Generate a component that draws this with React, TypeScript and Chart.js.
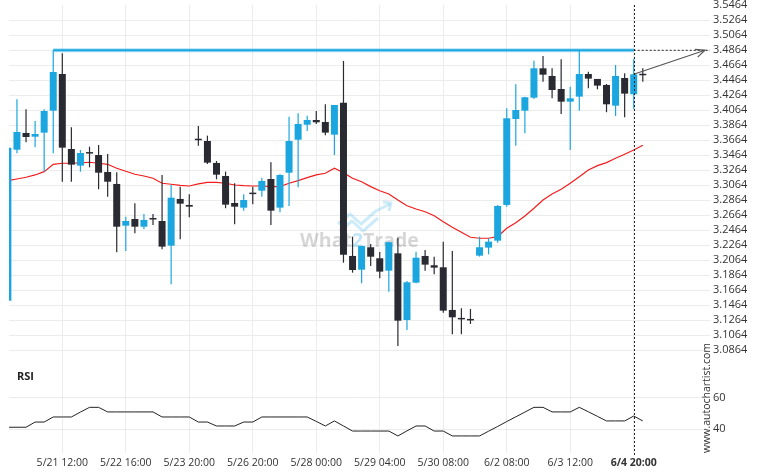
import React, { useEffect, useRef } from 'react';
import { Chart, registerables } from 'chart.js';

Chart.register(...registerables);

// ---- data (4h candles, index 0..70) ----
const OPEN = [
  3.1525, 3.3539, 3.3762, 3.3712, 3.3766, 3.4059, 3.4548, 3.3548, 3.3326, 3.3495,
  3.3468, 3.3242, 3.3082, 3.2526, 3.2615, 3.2512, 3.2615, 3.2588, 3.2259, 3.2882,
  3.2802, 3.3670, 3.3655, 3.3362, 3.3188, 3.2828, 3.2766, 3.2951, 3.2992, 3.3148,
  3.2766, 3.3232, 3.3672, 3.3872, 3.3935, 3.3908, 3.3739, 3.4166, 3.2122, 3.1939,
  3.2238, 3.2091, 3.1926, 3.2157, 3.1268, 3.1766, 3.2122, 3.1998, 3.1971, 3.1402,
  3.1280, 3.1266, 3.2126, 3.2233, 3.2326, 3.2802, 3.3948, 3.4059, 3.4232, 3.4624,
  3.4522, 3.4348, 3.4179, 3.4246, 3.4548, 3.4482, 3.4402, 3.4126, 3.4495, 3.4278,
  3.4548,
];
const HIGH = [
  3.3570, 3.4211, 3.4078, 3.3922, 3.4078, 3.4864, 3.4824, 3.3838, 3.3535, 3.3579,
  3.3602, 3.3482, 3.3238, 3.2646, 3.2824, 3.2682, 3.2682, 3.3202, 3.3068, 3.3046,
  3.2944, 3.3855, 3.3726, 3.3388, 3.3246, 3.3091, 3.2944, 3.3046, 3.3166, 3.3371,
  3.3211, 3.3979, 3.4024, 3.3992, 3.4055, 3.4144, 3.4135, 3.4722, 3.2379, 3.2255,
  3.2282, 3.2175, 3.2313, 3.2366, 3.1788, 3.2179, 3.2202, 3.2113, 3.2313, 3.2188,
  3.1424, 3.1415, 3.2379, 3.2358, 3.2802, 3.4091, 3.4411, 3.4246, 3.4726, 3.4788,
  3.4624, 3.4744, 3.4379, 3.4855, 3.4579, 3.4482, 3.4415, 3.4668, 3.4558, 3.4748,
  3.4624,
];
const LOW = [
  3.1520, 3.3491, 3.3638, 3.3571, 3.3246, 3.3491, 3.3112, 3.3112, 3.3246, 3.3304,
  3.3011, 3.2912, 3.2171, 3.2188, 3.2425, 3.2478, 3.2535, 3.2211, 3.1744, 3.2344,
  3.2638, 3.3592, 3.3348, 3.3144, 3.2758, 3.2544, 3.2726, 3.2811, 3.2912, 3.2535,
  3.2704, 3.2788, 3.3038, 3.3788, 3.3882, 3.3731, 3.3468, 3.2032, 3.1899, 3.1758,
  3.1988, 3.1824, 3.1646, 3.0922, 3.1135, 3.1758, 3.1926, 3.1878, 3.1366, 3.1078,
  3.1078, 3.1215, 3.2113, 3.2144, 3.2299, 3.2779, 3.3593, 3.3758, 3.4215, 3.4446,
  3.4224, 3.4015, 3.3535, 3.4059, 3.4358, 3.4344, 3.4038, 3.3988, 3.3971, 3.4082,
  3.4446,
];
const CLOSE = [
  3.3565, 3.3775, 3.3708, 3.3748, 3.4055, 3.4575, 3.3566, 3.3339, 3.3495, 3.3487,
  3.3232, 3.3112, 3.2512, 3.2588, 3.2512, 3.2602, 3.2608, 3.2246, 3.2899, 3.2819,
  3.2779, 3.3665, 3.3366, 3.3206, 3.2806, 3.2779, 3.2868, 3.2946, 3.3122, 3.2726,
  3.3202, 3.3655, 3.3882, 3.3935, 3.3904, 3.3766, 3.4135, 3.2139, 3.1935, 3.2255,
  3.2112, 3.1913, 3.2305, 3.1259, 3.1771, 3.2099, 3.2006, 3.1966, 3.1393, 3.1304,
  3.1276, 3.1262, 3.2238, 3.2313, 3.2788, 3.3958, 3.4068, 3.4238, 3.4624, 3.4539,
  3.4335, 3.4179, 3.4224, 3.4548, 3.4486, 3.4393, 3.4144, 3.4522, 3.4286, 3.4544,
  3.4531,
];
const MA = [
  3.3126, 3.3148, 3.3171, 3.3202, 3.3246, 3.3344, 3.3358, 3.3358, 3.3362, 3.3371,
  3.3358, 3.3344, 3.3291, 3.3252, 3.3211, 3.3188, 3.3158, 3.3091, 3.3078, 3.3064,
  3.3055, 3.3082, 3.3104, 3.3104, 3.3091, 3.3068, 3.3059, 3.3055, 3.3055, 3.3046,
  3.3046, 3.3091, 3.3126, 3.3166, 3.3202, 3.3224, 3.3291, 3.3232, 3.3158, 3.3112,
  3.3046, 3.2991, 3.2948, 3.2868, 3.2792, 3.2748, 3.2712, 3.2659, 3.2579, 3.2504,
  3.2438, 3.2371, 3.2358, 3.2358, 3.2379, 3.2491, 3.2566, 3.2655, 3.2758, 3.2868,
  3.2948, 3.3011, 3.3091, 3.3179, 3.3268, 3.3326, 3.3366, 3.3424, 3.3478, 3.3535,
  3.3598,
];
const RSI = [
  41.3, 41.3, 41.3, 44.6, 44.6, 47.8, 47.8, 47.8, 50.9, 53.9,
  53.9, 51.0, 51.0, 51.0, 51.0, 51.0, 51.0, 47.8, 47.8, 47.8,
  47.8, 44.6, 44.6, 42.1, 42.1, 42.1, 44.6, 44.6, 47.8, 47.8,
  47.8, 47.8, 47.8, 47.8, 45.0, 42.1, 45.3, 42.1, 38.9, 38.9,
  38.9, 38.9, 38.9, 35.8, 39.0, 42.1, 42.1, 38.9, 38.9, 35.8,
  35.8, 35.8, 35.8, 38.8, 41.8, 44.9, 47.9, 50.9, 53.9, 53.9,
  51.0, 51.0, 51.0, 53.9, 51.1, 48.2, 45.3, 45.3, 45.3, 48.4,
  45.3,
];

const X_TICK_INDEX = [6, 13, 20, 27, 34, 41, 48, 55, 62, 69];
const X_TICK_LABELS = [
  '5/21 12:00', '5/22 16:00', '5/23 20:00', '5/26 20:00', '5/28 00:00',
  '5/29 04:00', '5/30 08:00', '6/2 08:00', '6/3 12:00', '6/4 20:00',
];
const PRICE_TICKS = [
  3.0864, 3.1064, 3.1264, 3.1464, 3.1664, 3.1864, 3.2064, 3.2264, 3.2464, 3.2664,
  3.2864, 3.3064, 3.3264, 3.3464, 3.3664, 3.3864, 3.4064, 3.4264, 3.4464, 3.4664,
  3.4864, 3.5064, 3.5264, 3.5464,
];
const RSI_TICKS = [40, 60];

const RESISTANCE = 3.4864;
const RESISTANCE_START = 5;
const SIGNAL_INDEX = 69;
const FORECAST_END = 76.86;

const X_MIN = 0.123;
const X_MAX = 77.41;
const PRICE_MIN = 3.0708;
const PRICE_MAX = 3.5468;
const RSI_MIN = 25.0;
const RSI_MAX = 82.6;
const PRICE_PANE_WEIGHT = 357;
const RSI_PANE_WEIGHT = 91;

const BLUE = '#1ba6df';
const DARK = '#2a2a32';
const FONT = "'Open Sans', 'Noto Sans', sans-serif";

const overlayPlugin = {
  id: 'overlay',
  beforeDatasetsDraw(chart: any) {
    const { ctx } = chart;
    ctx.save();
    // watermark logo
    ctx.strokeStyle = 'rgba(27,166,223,0.22)';
    ctx.lineWidth = 3;
    ctx.lineJoin = 'round';
    ctx.beginPath();
    ctx.moveTo(338, 224); ctx.lineTo(350, 214); ctx.lineTo(361, 224); ctx.lineTo(376, 211); ctx.lineTo(390, 204);
    ctx.stroke();
    ctx.beginPath();
    ctx.moveTo(340, 231); ctx.lineTo(352, 221); ctx.lineTo(363, 231); ctx.lineTo(378, 218);
    ctx.stroke();
    ctx.beginPath();
    ctx.moveTo(383, 202); ctx.lineTo(391, 203); ctx.lineTo(389, 211);
    ctx.stroke();
    // watermark text
    ctx.font = `bold 19.5px ${FONT}`;
    ctx.textBaseline = 'alphabetic';
    ctx.textAlign = 'left';
    let x = 300;
    const parts: [string, string][] = [['What', 'rgba(0,0,0,0.16)'], ['2', 'rgba(27,166,223,0.28)'], ['Trade', 'rgba(0,0,0,0.16)']];
    for (const [t, c] of parts) {
      ctx.fillStyle = c;
      ctx.fillText(t, x, 247);
      x += ctx.measureText(t).width;
    }
    ctx.restore();
  },
  afterDatasetsDraw(chart: any) {
    const { ctx, chartArea } = chart;
    const xs = chart.scales.x;
    ctx.save();
    // vertical dashed signal line
    const px = Math.round(xs.getPixelForValue(SIGNAL_INDEX)) + 0.5;
    ctx.strokeStyle = '#222';
    ctx.lineWidth = 1;
    ctx.setLineDash([2, 2]);
    ctx.beginPath();
    ctx.moveTo(px, chartArea.top);
    ctx.lineTo(px, chartArea.bottom + 2);
    ctx.stroke();
    ctx.setLineDash([]);
    // arrow head on forecast line
    const meta = chart.getDatasetMeta(chart.data.datasets.findIndex((d: any) => d.label === 'forecast'));
    if (meta && meta.data.length === 2) {
      const p0 = meta.data[0], p1 = meta.data[1];
      const ang = Math.atan2(p1.y - p0.y, p1.x - p0.x);
      const len = 10, spread = 0.42;
      ctx.strokeStyle = '#555';
      ctx.lineWidth = 1.2;
      ctx.beginPath();
      ctx.moveTo(p1.x - len * Math.cos(ang - spread), p1.y - len * Math.sin(ang - spread));
      ctx.lineTo(p1.x, p1.y);
      ctx.lineTo(p1.x - len * Math.cos(ang + spread), p1.y - len * Math.sin(ang + spread));
      ctx.stroke();
    }
    ctx.restore();
  },
  afterDraw(chart: any) {
    const { ctx } = chart;
    ctx.save();
    ctx.fillStyle = '#222';
    ctx.font = `bold 11px ${FONT}`;
    ctx.textAlign = 'left';
    ctx.textBaseline = 'middle';
    ctx.fillText('RSI', 17, 377);
    ctx.translate(707.5, 453);
    ctx.rotate(-Math.PI / 2);
    ctx.fillStyle = '#333';
    ctx.font = `10.5px ${FONT}`;
    ctx.textAlign = 'left';
    ctx.textBaseline = 'middle';
    ctx.fillText('www.autochartist.com', 0, 0);
    ctx.restore();
  },
};

export default function App() {
  const canvasRef = useRef<HTMLCanvasElement | null>(null);

  useEffect(() => {
    const canvas = canvasRef.current;
    if (!canvas) return;
    const idx = OPEN.map((_, i) => i);
    const colors = idx.map((i) => (CLOSE[i] >= OPEN[i] ? BLUE : DARK));

    const chart = new Chart(canvas, {
      type: 'bar',
      data: {
        datasets: [
          {
            type: 'line',
            label: 'forecast',
            data: [
              { x: SIGNAL_INDEX, y: CLOSE[SIGNAL_INDEX] },
              { x: FORECAST_END, y: RESISTANCE },
            ],
            borderColor: '#555',
            borderWidth: 1.2,
            pointRadius: 0,
            yAxisID: 'y',
            clip: 0,
            order: 1,
          } as any,
          {
            type: 'line',
            label: 'resistance-ext',
            data: [
              { x: SIGNAL_INDEX, y: RESISTANCE },
              { x: X_MAX, y: RESISTANCE },
            ],
            borderColor: '#222',
            borderWidth: 1,
            borderDash: [2, 2],
            pointRadius: 0,
            yAxisID: 'y',
            clip: 0,
            order: 2,
          } as any,
          {
            type: 'line',
            label: 'resistance',
            data: [
              { x: RESISTANCE_START, y: RESISTANCE },
              { x: SIGNAL_INDEX, y: RESISTANCE },
            ],
            borderColor: BLUE,
            borderWidth: 2,
            pointRadius: 0,
            yAxisID: 'y',
            clip: 0,
            order: 2,
          } as any,
          {
            type: 'line',
            label: 'resistance-halo',
            data: [
              { x: RESISTANCE_START, y: RESISTANCE },
              { x: SIGNAL_INDEX, y: RESISTANCE },
            ],
            borderColor: 'rgba(27,166,223,0.35)',
            borderWidth: 4,
            pointRadius: 0,
            yAxisID: 'y',
            clip: 0,
            order: 3,
          } as any,
          {
            type: 'bar',
            label: 'body',
            data: idx.map((i) => ({ x: i, y: [OPEN[i], CLOSE[i]] })),
            backgroundColor: colors,
            barThickness: 7,
            minBarLength: 1.5,
            grouped: false,
            inflateAmount: 0,
            borderWidth: 0,
            yAxisID: 'y',
            clip: 0,
            order: 4,
          } as any,
          {
            type: 'bar',
            label: 'wick',
            data: idx.map((i) => ({ x: i, y: [LOW[i], HIGH[i]] })),
            backgroundColor: colors,
            barThickness: 1.2,
            grouped: false,
            inflateAmount: 0,
            borderWidth: 0,
            yAxisID: 'y',
            clip: 0,
            order: 5,
          } as any,
          {
            type: 'line',
            label: 'ma',
            data: idx.map((i) => ({ x: i, y: MA[i] })),
            borderColor: '#f21c1c',
            borderWidth: 1.2,
            pointRadius: 0,
            tension: 0,
            yAxisID: 'y',
            clip: 0,
            order: 10,
          } as any,
          {
            type: 'line',
            label: 'rsi',
            data: idx.map((i) => ({ x: i, y: RSI[i] })),
            borderColor: '#222',
            borderWidth: 1,
            pointRadius: 0,
            tension: 0,
            yAxisID: 'yRsi',
            clip: 0,
            order: 9,
          } as any,
        ],
      },
      options: {
        responsive: false,
        animation: false,
        events: [],
        layout: { padding: { left: 9, top: 5, right: 0, bottom: 0 }, autoPadding: false },
        plugins: { legend: { display: false }, tooltip: { enabled: false } },
        scales: {
          x: {
            type: 'linear',
            offset: false,
            min: X_MIN,
            max: X_MAX,
            border: { display: false },
            grid: { color: '#ececec', drawTicks: false, offset: false },
            ticks: {
              autoSkip: false,
              maxRotation: 0,
              minRotation: 0,
              padding: 4,
              color: '#333',
              font: (c: any) =>
                c.tick && c.tick.value === SIGNAL_INDEX
                  ? { family: FONT, size: 10.5, weight: 'bold' }
                  : { family: FONT, size: 10.5 },
              callback: (v: any) => {
                const k = X_TICK_INDEX.indexOf(Number(v));
                return k >= 0 ? X_TICK_LABELS[k] : '';
              },
            },
            afterBuildTicks: (s: any) => {
              s.ticks = X_TICK_INDEX.map((v) => ({ value: v }));
            },
            afterFit: (s: any) => {
              s.height = 22;
              s.paddingLeft = 0;
              s.paddingRight = 0;
            },
          } as any,
          y: {
            type: 'linear',
            position: 'right',
            stack: 'panes',
            stackWeight: PRICE_PANE_WEIGHT,
            weight: 0,
            offset: false,
            min: PRICE_MIN,
            max: PRICE_MAX,
            border: { display: false },
            grid: {
              color: (c: any) => (c.tick && c.tick.value > 3.54 ? 'rgba(0,0,0,0)' : '#ececec'),
              drawTicks: false,
            },
            ticks: {
              autoSkip: false,
              padding: 3,
              color: '#333',
              font: { family: FONT, size: 11 },
              callback: (v: any) => Number(v).toFixed(4),
            },
            afterBuildTicks: (s: any) => {
              s.ticks = PRICE_TICKS.map((v) => ({ value: v }));
            },
            afterFit: (s: any) => {
              s.width = 50;
              s.paddingTop = 0;
              s.paddingBottom = 0;
            },
          } as any,
          yRsi: {
            type: 'linear',
            position: 'right',
            stack: 'panes',
            stackWeight: RSI_PANE_WEIGHT,
            weight: 1,
            offset: false,
            min: RSI_MIN,
            max: RSI_MAX,
            border: { display: false },
            grid: { color: '#ececec', drawTicks: false },
            ticks: {
              autoSkip: false,
              padding: 3,
              color: '#333',
              font: { family: FONT, size: 11 },
              callback: (v: any) => String(v),
            },
            afterBuildTicks: (s: any) => {
              s.ticks = RSI_TICKS.map((v) => ({ value: v }));
            },
            afterFit: (s: any) => {
              s.width = 50;
              s.paddingTop = 0;
              s.paddingBottom = 0;
            },
          } as any,
        },
      } as any,
      plugins: [overlayPlugin],
    });
    return () => chart.destroy();
  }, []);

  return (
    <div style={{ position: 'fixed', left: 0, top: 0, width: 760, height: 475, background: '#fff' }}>
      <canvas ref={canvasRef} width={760} height={475} style={{ display: 'block' }} />
    </div>
  );
}
